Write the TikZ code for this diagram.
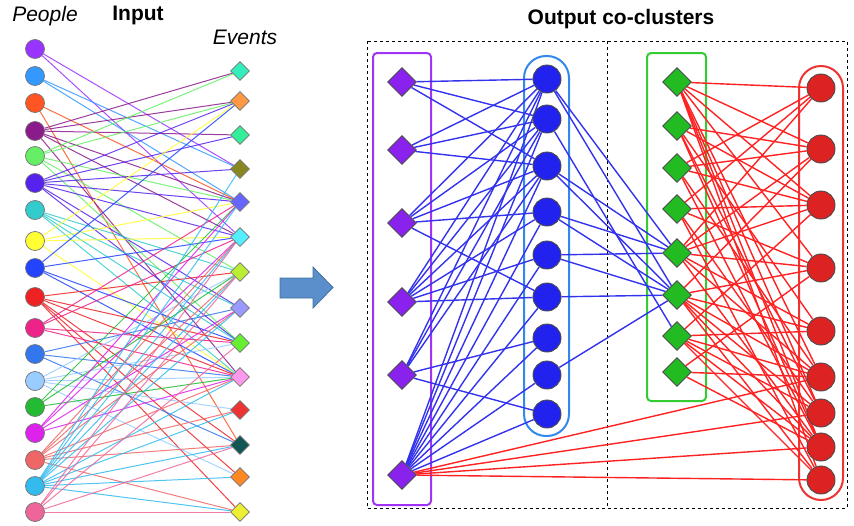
\documentclass[tikz,border=0pt]{standalone}
\usepackage{fontspec}
\setmainfont{Liberation Sans}
\usetikzlibrary{shapes.geometric,backgrounds}
\definecolor{pc1}{HTML}{9933FF}\definecolor{pc2}{HTML}{3399FF}\definecolor{pc3}{HTML}{FF5522}
\definecolor{pc4}{HTML}{8B1A8B}\definecolor{pc5}{HTML}{66EE66}\definecolor{pc6}{HTML}{5522EE}
\definecolor{pc7}{HTML}{33CCCC}\definecolor{pc8}{HTML}{FFFF33}\definecolor{pc9}{HTML}{2244FF}
\definecolor{pc10}{HTML}{EE2222}\definecolor{pc11}{HTML}{EE2288}\definecolor{pc12}{HTML}{3377EE}
\definecolor{pc13}{HTML}{99CCFF}\definecolor{pc14}{HTML}{22BB33}\definecolor{pc15}{HTML}{DD22EE}
\definecolor{pc16}{HTML}{EE6666}\definecolor{pc17}{HTML}{33BBEE}\definecolor{pc18}{HTML}{EE6699}
\definecolor{ec1}{HTML}{33EEBB}\definecolor{ec2}{HTML}{FF9944}\definecolor{ec3}{HTML}{33EE99}
\definecolor{ec4}{HTML}{888822}\definecolor{ec5}{HTML}{6666FF}\definecolor{ec6}{HTML}{55EEFF}
\definecolor{ec7}{HTML}{BBEE33}\definecolor{ec8}{HTML}{9999FF}\definecolor{ec9}{HTML}{66EE33}
\definecolor{ec10}{HTML}{FF99EE}\definecolor{ec11}{HTML}{EE3333}\definecolor{ec12}{HTML}{115555}
\definecolor{ec13}{HTML}{FF8822}\definecolor{ec14}{HTML}{EEEE33}
\definecolor{cpurple}{HTML}{8A22EE}\definecolor{cblue}{HTML}{2222EE}
\definecolor{cgreen}{HTML}{22BB22}\definecolor{cred}{HTML}{DD2222}
\definecolor{boxpurple}{HTML}{A033F5}\definecolor{boxblue}{HTML}{3388EE}
\definecolor{boxgreen}{HTML}{33CC33}\definecolor{boxred}{HTML}{EE3333}
\definecolor{bedge}{HTML}{3333EE}\definecolor{redge}{HTML}{FF2222}
\definecolor{arrowfill}{HTML}{5B8FCC}\definecolor{arrowdraw}{HTML}{41719C}
\tikzset{
  person/.style={circle, draw=black!55, line width=0.7pt, minimum size=19pt, inner sep=0pt},
  eventnode/.style={diamond, draw=black!55, line width=0.7pt, minimum size=19pt, inner sep=0pt},
  bigcirc/.style={circle, draw=black!70, line width=0.9pt, minimum size=28pt, inner sep=0pt},
  bigdiam/.style={diamond, draw=black!70, line width=0.9pt, minimum size=29pt, inner sep=0pt},
  leftedge/.style={line width=1pt, opacity=0.85},
  blueedge/.style={bedge, line width=1.4pt},
  rededge/.style={redge, line width=1.4pt},
  groupbox/.style={line width=2pt},
  lbl/.style={anchor=base, inner sep=0pt, font=\fontsize{21}{25}\selectfont},
}
\begin{document}
\begin{tikzpicture}[x=1pt,y=-1pt]
\useasboundingbox (0,0) rectangle (854,525);
% titles
\node[lbl, font=\fontsize{21}{25}\selectfont\itshape] (people) at (45,21.5) {People};
\node[lbl, font=\fontsize{21}{25}\selectfont\bfseries] (input) at (138,20.5) {Input};
\node[lbl, font=\fontsize{21}{25}\selectfont\itshape] (events) at (245,44) {Events};
\node[lbl, font=\fontsize{21}{25}\selectfont\bfseries] (output) at (621,24) {Output co-clusters};
% people and events
\foreach \y [count=\i] in {49,76,103,131,156,183,210,241,268,297,328,354,381,407,433,460,486,512}
  \node[person, fill=pc\i] (p\i) at (35,\y) {};
\foreach \y [count=\i] in {71,101,135,169,202,237,272,308,343,377,410,445,477,512}
  \node[eventnode, fill=ec\i] (e\i) at (240,\y) {};
% output nodes
\foreach \y [count=\i] in {82,150,223,302,375,475}
  \node[bigdiam, fill=cpurple] (d\i) at (402,\y) {};
\foreach \y [count=\i] in {79,119,166,212,255,297,338,375,414}
  \node[bigcirc, fill=cblue] (b\i) at (547,\y) {};
\foreach \y [count=\i] in {82,126,168,209,253,295,336,372}
  \node[bigdiam, fill=cgreen] (g\i) at (677,\y) {};
\foreach \y [count=\i] in {88,149,205,268,331,377,413,447,480}
  \node[bigcirc, fill=cred] (r\i) at (821,\y) {};
% arrow
\draw[fill=arrowfill, draw=arrowdraw, line width=0.8pt]
  (280,278) -- (313,278) -- (313,267) -- (333,287.5) -- (313,308) -- (313,298) -- (280,298) -- cycle;
\begin{scope}[on background layer]
  % frames
  \draw[dashed, line width=0.8pt] (367,41) rectangle (847,508);
  \draw[dashed, line width=0.8pt] (607,41) -- (607,508);
  \draw[groupbox, boxpurple, rounded corners=4pt] (373,53) rectangle (431,505);
  \draw[groupbox, boxgreen, rounded corners=4pt] (647,53) rectangle (706,401);
  \draw[groupbox, boxblue, rounded corners=22pt] (524,56) rectangle (569,436);
  \draw[groupbox, boxred, rounded corners=22pt] (799,66) rectangle (843,500);
  % input edges
  \foreach \i/\l in {1/{4,6},2/{4,5},3/{5,12},4/{1,2,3,5,6,10},5/{1,2,5,7,9},
      6/{2,3,4,5,6,8,9},7/{7,8,9,10},8/{2,5,6,10},9/{2,6,9,10},
      10/{7,9,10,12,13,14},11/{5,6,9,10},12/{8,10,12},13/{7,9,10,11,13},
      14/{5,7,10},15/{5,6,8,10},16/{6,7,8,10,11,12,14},
      17/{4,5,6,7,8,10,11,12,13,14},18/{6,7,9,12,14}}
    {\foreach \j in \l {\draw[leftedge, pc\i] (p\i) -- (e\j);}}
  % blue edges: purple diamonds to blue circles
  \foreach \i/\l in {1/{1,2,3},2/{1,2,3},3/{1,2,3,4,6},4/{1,2,3,4,5,6},
      5/{1,2,3,7,9},6/{1,2,3,4,5,6,7,8,9}}
    {\foreach \j in \l {\draw[blueedge] (d\i) -- (b\j);}}
  % blue edges: blue circles to green diamonds
  \foreach \i/\j in {1/5,1/6,2/7,3/5,3/6,4/5,4/6,5/5,5/6,6/6,8/6}
    {\draw[blueedge] (b\i) -- (g\j);}
  % red edges: green diamonds to red circles
  \foreach \i/\l in {1/{1,2,3,4,6,7,8,9},2/{2,3,5,7,8},3/{1,2,3,6,8},4/{1,3,4,7,9},
      5/{1,2,3,4,5,6,8},6/{2,4,5,6,7,8,9},7/{3,5,6,7,8,9},8/{4,6,8}}
    {\foreach \j in \l {\draw[rededge] (g\i) -- (r\j);}}
  \foreach \j in {6,7,8,9}
    {\draw[rededge] (d6) -- (r\j);}
\end{scope}
\end{tikzpicture}
\end{document}
